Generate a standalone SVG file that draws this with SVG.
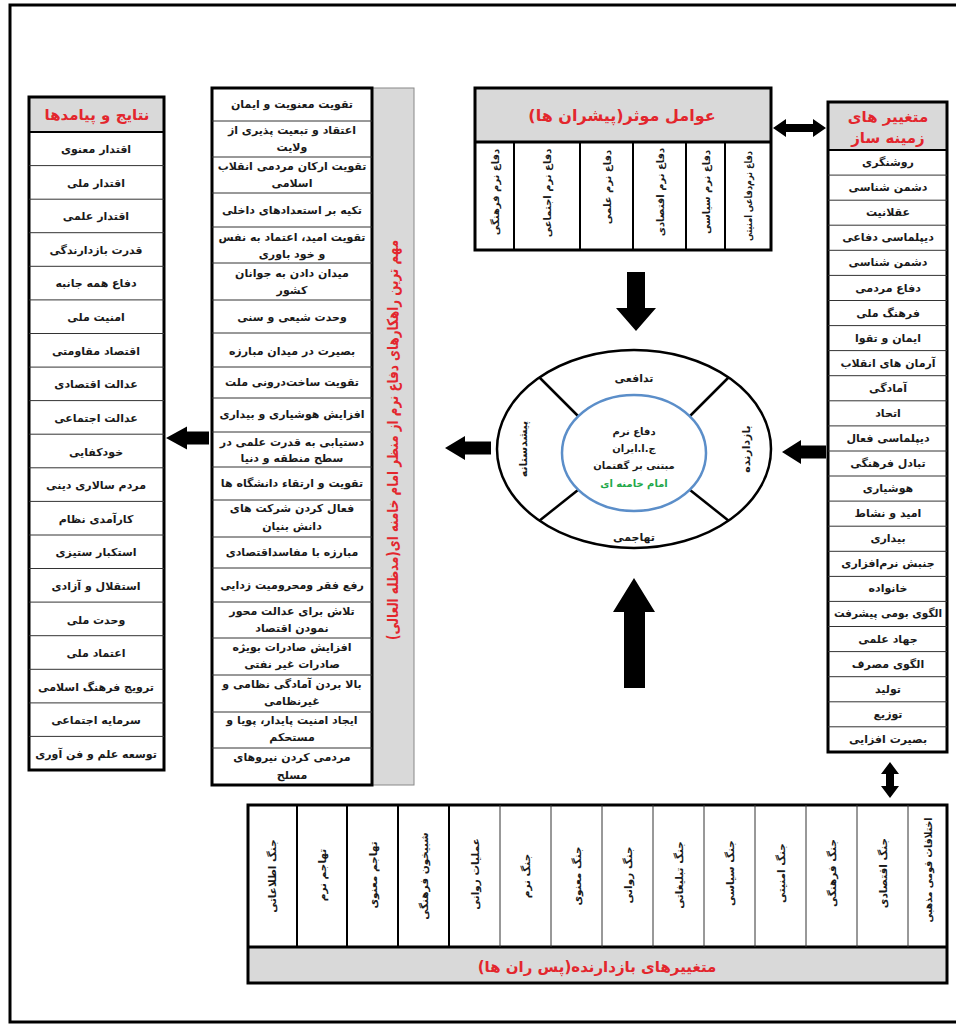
<svg xmlns="http://www.w3.org/2000/svg" width="956" height="1029" viewBox="0 0 956 1029">
<style>
text { font-family: "DejaVu Sans", "Noto Sans", sans-serif; font-weight: bold; direction: rtl; unicode-bidi: embed; }
.c { font-size: 11px; text-anchor: middle; fill: #1a1a1a; }
.v { font-size: 10px; text-anchor: middle; fill: #1a1a1a; }
.vb { font-size: 10.5px; text-anchor: middle; fill: #1a1a1a; }
.h { font-size: 15px; text-anchor: middle; fill: #e3262d; }
.g { fill: #d9d9d9; }
.thick { fill: none; stroke: #000; stroke-width: 3; }
.thin { stroke: #333; stroke-width: 1; }
.mid { stroke: #000; stroke-width: 2; }
.arrow { fill: #000; }
</style>
<rect x="0" y="0" width="956" height="1029" fill="#fff"/>
<rect x="10" y="5" width="960" height="1017" fill="none" stroke="#000" stroke-width="3"/>

<g id="results">
<rect x="29" y="97" width="135" height="35" class="g"/>
<rect x="29" y="97" width="135" height="673" class="thick"/>
<line x1="29" y1="132" x2="164" y2="132" class="mid"/>
<g class="thin">
<line x1="29" y1="165.6" x2="164" y2="165.6"/><line x1="29" y1="199.2" x2="164" y2="199.2"/><line x1="29" y1="232.7" x2="164" y2="232.7"/><line x1="29" y1="266.3" x2="164" y2="266.3"/><line x1="29" y1="299.9" x2="164" y2="299.9"/><line x1="29" y1="333.5" x2="164" y2="333.5"/><line x1="29" y1="367.1" x2="164" y2="367.1"/><line x1="29" y1="400.6" x2="164" y2="400.6"/><line x1="29" y1="434.2" x2="164" y2="434.2"/><line x1="29" y1="467.8" x2="164" y2="467.8"/><line x1="29" y1="501.4" x2="164" y2="501.4"/><line x1="29" y1="535" x2="164" y2="535"/><line x1="29" y1="568.5" x2="164" y2="568.5"/><line x1="29" y1="602.1" x2="164" y2="602.1"/><line x1="29" y1="635.7" x2="164" y2="635.7"/><line x1="29" y1="669.3" x2="164" y2="669.3"/><line x1="29" y1="702.9" x2="164" y2="702.9"/><line x1="29" y1="736.4" x2="164" y2="736.4"/>
</g>
<text x="97" y="120" class="h">نتایج و پیامدها</text>
<text x="96" y="153" class="c">اقتدار معنوی</text>
<text x="96" y="187" class="c">اقتدار ملی</text>
<text x="96" y="220" class="c">اقتدار علمی</text>
<text x="96" y="254" class="c">قدرت بازدارندگی</text>
<text x="96" y="287" class="c">دفاع همه جانبه</text>
<text x="96" y="321" class="c">امنیت ملی</text>
<text x="96" y="355" class="c">اقتصاد مقاومتی</text>
<text x="96" y="388" class="c">عدالت اقتصادی</text>
<text x="96" y="422" class="c">عدالت اجتماعی</text>
<text x="96" y="456" class="c">خودکفایی</text>
<text x="96" y="489" class="c">مردم سالاری دینی</text>
<text x="96" y="523" class="c">کارآمدی نظام</text>
<text x="96" y="556" class="c">استکبار ستیزی</text>
<text x="96" y="590" class="c">استقلال و آزادی</text>
<text x="96" y="624" class="c">وحدت ملی</text>
<text x="96" y="657" class="c">اعتماد ملی</text>
<text x="96" y="691" class="c">ترویج فرهنگ اسلامی</text>
<text x="96" y="724" class="c">سرمایه اجتماعی</text>
<text x="96" y="758" class="c">توسعه علم و فن آوری</text>
</g>

<g id="strategies">
<rect x="372" y="88" width="42" height="697" class="g" stroke="#888" stroke-width="1"/>
<rect x="212" y="88" width="160" height="697" class="thick"/>
<g class="thin">
<line x1="212" y1="121" x2="372" y2="121"/><line x1="212" y1="157" x2="372" y2="157"/><line x1="212" y1="193" x2="372" y2="193"/><line x1="212" y1="227" x2="372" y2="227"/><line x1="212" y1="263" x2="372" y2="263"/><line x1="212" y1="300" x2="372" y2="300"/><line x1="212" y1="333" x2="372" y2="333"/><line x1="212" y1="367" x2="372" y2="367"/><line x1="212" y1="398" x2="372" y2="398"/><line x1="212" y1="432" x2="372" y2="432"/><line x1="212" y1="467" x2="372" y2="467"/><line x1="212" y1="500" x2="372" y2="500"/><line x1="212" y1="537" x2="372" y2="537"/><line x1="212" y1="568" x2="372" y2="568"/><line x1="212" y1="602" x2="372" y2="602"/><line x1="212" y1="638" x2="372" y2="638"/><line x1="212" y1="675" x2="372" y2="675"/><line x1="212" y1="712" x2="372" y2="712"/><line x1="212" y1="748" x2="372" y2="748"/>
</g>
<text x="292" y="108" class="c">تقویت معنویت و ایمان</text>
<text x="292" y="134" class="c">اعتقاد و تبعیت پذیری از</text>
<text x="292" y="151" class="c">ولایت</text>
<text x="292" y="170" class="c">تقویت ارکان مردمی انقلاب</text>
<text x="292" y="187" class="c">اسلامی</text>
<text x="292" y="214" class="c">تکیه بر استعدادهای داخلی</text>
<text x="292" y="241" class="c">تقویت امید، اعتماد به نفس</text>
<text x="292" y="258" class="c">و خود باوری</text>
<text x="292" y="277" class="c">میدان دادن به جوانان</text>
<text x="292" y="294" class="c">کشور</text>
<text x="292" y="321" class="c">وحدت شیعی و سنی</text>
<text x="292" y="355" class="c">بصیرت در میدان مبارزه</text>
<text x="292" y="386" class="c">تقویت ساخت‌درونی ملت</text>
<text x="292" y="418" class="c">افزایش هوشیاری و بیداری</text>
<text x="292" y="446" class="c">دستیابی به قدرت علمی در</text>
<text x="292" y="462" class="c">سطح منطقه و دنیا</text>
<text x="292" y="487" class="c">تقویت و ارتقاء دانشگاه ها</text>
<text x="292" y="512" class="c">فعال کردن شرکت های</text>
<text x="292" y="530" class="c">دانش بنیان</text>
<text x="292" y="556" class="c">مبارزه با مفاسداقتصادی</text>
<text x="292" y="589" class="c">رفع فقر ومحرومیت زدایی</text>
<text x="292" y="615" class="c">تلاش برای عدالت محور</text>
<text x="292" y="632" class="c">نمودن اقتصاد</text>
<text x="292" y="651" class="c">افزایش صادرات بویژه</text>
<text x="292" y="668" class="c">صادرات غیر نفتی</text>
<text x="292" y="688" class="c">بالا بردن آمادگی نظامی و</text>
<text x="292" y="705" class="c">غیرنظامی</text>
<text x="292" y="724" class="c">ایجاد امنیت پایدار، پویا و</text>
<text x="292" y="741" class="c">مستحکم</text>
<text x="292" y="761" class="c">مردمی کردن نیروهای</text>
<text x="292" y="779" class="c">مسلح</text>
<text transform="translate(393,440) rotate(-90)" x="0" y="5" class="h" textLength="400" lengthAdjust="spacingAndGlyphs">مهم ترین راهکارهای دفاع نرم  از منظر امام خامنه ای(مدظله العالی)</text>
</g>

<g id="drivers">
<rect x="475" y="88" width="296" height="54" class="g"/>
<rect x="475" y="88" width="296" height="162" class="thick"/>
<line x1="475" y1="142" x2="771" y2="142" class="thick"/>
<g class="mid">
<line x1="514" y1="142" x2="514" y2="250"/><line x1="580" y1="142" x2="580" y2="250"/><line x1="633" y1="142" x2="633" y2="250"/><line x1="686" y1="142" x2="686" y2="250"/><line x1="725" y1="142" x2="725" y2="250"/>
</g>
<text x="622" y="121" class="h" style="font-size:16px">عوامل موثر(پیشران ها)</text>
<text transform="translate(494.5,192) rotate(-90)" x="0" y="4" class="v">دفاع نرم فرهنگی</text>
<text transform="translate(547,193) rotate(-90)" x="0" y="4" class="v">دفاع نرم اجتماعی</text>
<text transform="translate(606.5,187) rotate(-90)" x="0" y="4" class="v">دفاع نرم علمی</text>
<text transform="translate(659.5,192) rotate(-90)" x="0" y="4" class="v">دفاع نرم اقتصادی</text>
<text transform="translate(705.5,192) rotate(-90)" x="0" y="4" class="v">دفاع نرم سیاسی</text>
<text transform="translate(748,196) rotate(-90)" x="0" y="4" class="v" textLength="90" lengthAdjust="spacingAndGlyphs">دفاع نرم‌دفاعی امنیتی</text>
</g>

<g id="enablers">
<rect x="828" y="102" width="119" height="48" class="g"/>
<rect x="828" y="102" width="119" height="650" class="thick"/>
<line x1="828" y1="150" x2="947" y2="150" class="mid"/>
<g class="thin">
<line x1="828" y1="175.1" x2="947" y2="175.1"/><line x1="828" y1="200.2" x2="947" y2="200.2"/><line x1="828" y1="225.2" x2="947" y2="225.2"/><line x1="828" y1="250.3" x2="947" y2="250.3"/><line x1="828" y1="275.4" x2="947" y2="275.4"/><line x1="828" y1="300.5" x2="947" y2="300.5"/><line x1="828" y1="325.6" x2="947" y2="325.6"/><line x1="828" y1="350.6" x2="947" y2="350.6"/><line x1="828" y1="375.7" x2="947" y2="375.7"/><line x1="828" y1="400.8" x2="947" y2="400.8"/><line x1="828" y1="425.9" x2="947" y2="425.9"/><line x1="828" y1="451" x2="947" y2="451"/><line x1="828" y1="476" x2="947" y2="476"/><line x1="828" y1="501.1" x2="947" y2="501.1"/><line x1="828" y1="526.2" x2="947" y2="526.2"/><line x1="828" y1="551.3" x2="947" y2="551.3"/><line x1="828" y1="576.4" x2="947" y2="576.4"/><line x1="828" y1="601.4" x2="947" y2="601.4"/><line x1="828" y1="626.5" x2="947" y2="626.5"/><line x1="828" y1="651.6" x2="947" y2="651.6"/><line x1="828" y1="676.7" x2="947" y2="676.7"/><line x1="828" y1="701.8" x2="947" y2="701.8"/><line x1="828" y1="726.8" x2="947" y2="726.8"/>
</g>
<text x="888" y="122" class="h">متغییر های</text>
<text x="888" y="143" class="h">زمینه ساز</text>
<text x="888" y="166" class="c">روشنگری</text>
<text x="888" y="191" class="c">دشمن شناسی</text>
<text x="888" y="216" class="c">عقلانیت</text>
<text x="888" y="241" class="c">دیپلماسی دفاعی</text>
<text x="888" y="266" class="c">دشمن شناسی</text>
<text x="888" y="292" class="c">دفاع مردمی</text>
<text x="888" y="317" class="c">فرهنگ ملی</text>
<text x="888" y="342" class="c">ایمان و تقوا</text>
<text x="888" y="367" class="c">آرمان های انقلاب</text>
<text x="888" y="392" class="c">آمادگی</text>
<text x="888" y="417" class="c">اتحاد</text>
<text x="888" y="442" class="c">دیپلماسی فعال</text>
<text x="888" y="467" class="c">تبادل فرهنگی</text>
<text x="888" y="492" class="c">هوشیاری</text>
<text x="888" y="517" class="c">امید و نشاط</text>
<text x="888" y="542" class="c">بیداری</text>
<text x="888" y="567" class="c">جنبش نرم‌افزاری</text>
<text x="888" y="592" class="c">خانواده</text>
<text x="888" y="617" class="c" textLength="108" lengthAdjust="spacingAndGlyphs">الگوی بومی پیشرفت</text>
<text x="888" y="643" class="c">جهاد علمی</text>
<text x="888" y="668" class="c">الگوی مصرف</text>
<text x="888" y="693" class="c">تولید</text>
<text x="888" y="718" class="c">توزیع</text>
<text x="888" y="743" class="c">بصیرت افزایی</text>
</g>

<g id="deterrents">
<rect x="248" y="947" width="699" height="36" class="g"/>
<rect x="248" y="805" width="699" height="178" class="thick"/>
<line x1="248" y1="947" x2="947" y2="947" class="thick"/>
<g class="mid">
<line x1="297" y1="805" x2="297" y2="947"/><line x1="347" y1="805" x2="347" y2="947"/><line x1="398" y1="805" x2="398" y2="947"/><line x1="449" y1="805" x2="449" y2="947"/>
</g>
<g class="thin">
<line x1="500" y1="805" x2="500" y2="947"/><line x1="551" y1="805" x2="551" y2="947"/><line x1="602" y1="805" x2="602" y2="947"/><line x1="653" y1="805" x2="653" y2="947"/><line x1="704" y1="805" x2="704" y2="947"/><line x1="755" y1="805" x2="755" y2="947"/><line x1="806" y1="805" x2="806" y2="947"/><line x1="857" y1="805" x2="857" y2="947"/><line x1="908" y1="805" x2="908" y2="947"/>
</g>
<text transform="translate(272,876) rotate(-90)" x="0" y="4" class="vb">جنگ اطلاعاتی</text>
<text transform="translate(322,875) rotate(-90)" x="0" y="4" class="vb">تهاجم نرم</text>
<text transform="translate(372.5,875) rotate(-90)" x="0" y="4" class="vb">تهاجم معنوی</text>
<text transform="translate(423.5,876) rotate(-90)" x="0" y="4" class="vb">شبیخون فرهنگی</text>
<text transform="translate(474.5,874) rotate(-90)" x="0" y="4" class="vb">عملیات روانی</text>
<text transform="translate(525.5,876) rotate(-90)" x="0" y="4" class="vb">جنگ نرم</text>
<text transform="translate(576.5,876) rotate(-90)" x="0" y="4" class="vb">جنگ معنوی</text>
<text transform="translate(627.5,875) rotate(-90)" x="0" y="4" class="vb">جنگ روانی</text>
<text transform="translate(678.5,875) rotate(-90)" x="0" y="4" class="vb">جنگ تبلیغاتی</text>
<text transform="translate(729.5,873) rotate(-90)" x="0" y="4" class="vb">جنگ سیاسی</text>
<text transform="translate(780.5,873) rotate(-90)" x="0" y="4" class="vb">جنگ امنیتی</text>
<text transform="translate(831.5,873) rotate(-90)" x="0" y="4" class="vb">جنگ فرهنگی</text>
<text transform="translate(882.5,873) rotate(-90)" x="0" y="4" class="vb">جنگ اقتصادی</text>
<text transform="translate(927.5,870) rotate(-90)" x="0" y="4" class="vb" textLength="105" lengthAdjust="spacingAndGlyphs">اختلافات قومی مذهبی</text>
<text x="597" y="972" class="h">متغییرهای بازدارنده(پس ران ها)</text>
</g>

<g id="core">
<ellipse cx="634" cy="449" rx="137" ry="99" fill="#fff" stroke="#000" stroke-width="2.5"/>
<g stroke="#000" stroke-width="2.5">
<line x1="539" y1="377" x2="578" y2="416"/>
<line x1="729" y1="377" x2="690" y2="416"/>
<line x1="539" y1="521" x2="578" y2="490"/>
<line x1="729" y1="521" x2="690" y2="490"/>
</g>
<ellipse cx="634" cy="453" rx="72" ry="58" fill="#fff" stroke="#5b8ec9" stroke-width="2.5"/>
<text x="634" y="382" class="c">تدافعی</text>
<text x="634" y="541" class="c">تهاجمی</text>
<text transform="translate(523,449) rotate(-90)" x="0" y="4" class="c">پیشدستانه</text>
<text transform="translate(746,449) rotate(-90)" x="0" y="4" class="c">بازدارنده</text>
<text x="634" y="435" class="c" style="font-size:10px">دفاع نرم</text>
<text x="634" y="452" class="c" style="font-size:10px">ج.ا.ایران</text>
<text x="634" y="469" class="c" style="font-size:10px">مبتنی بر گفتمان</text>
<text x="634" y="487" class="c" style="font-size:10px;fill:#1fa84a">امام خامنه ای</text>
</g>

<g id="connectors" class="arrow">
<polygon points="627,272 645,272 645,308 656,308 636,331 616,308 627,308"/>
<polygon points="634,578 655,612 645,612 645,688 624,688 624,612 613,612"/>
<polygon points="445,448 465,436 465,441.5 491,441.5 491,454.5 465,454.5 465,460"/>
<polygon points="782,452 801,440 801,445.5 826,445.5 826,458.5 801,458.5 801,464"/>
<polygon points="166,438 187,426.5 187,431.5 209,431.5 209,444.5 187,444.5 187,449.5"/>
<polygon points="773,128 786,119 786,124 813,124 813,119 826,128 813,137 813,132 786,132 786,137"/>
<polygon points="890,762 899,774 894,774 894,786 899,786 890,798 881,786 886,786 886,774 881,774"/>
</g>
</svg>
